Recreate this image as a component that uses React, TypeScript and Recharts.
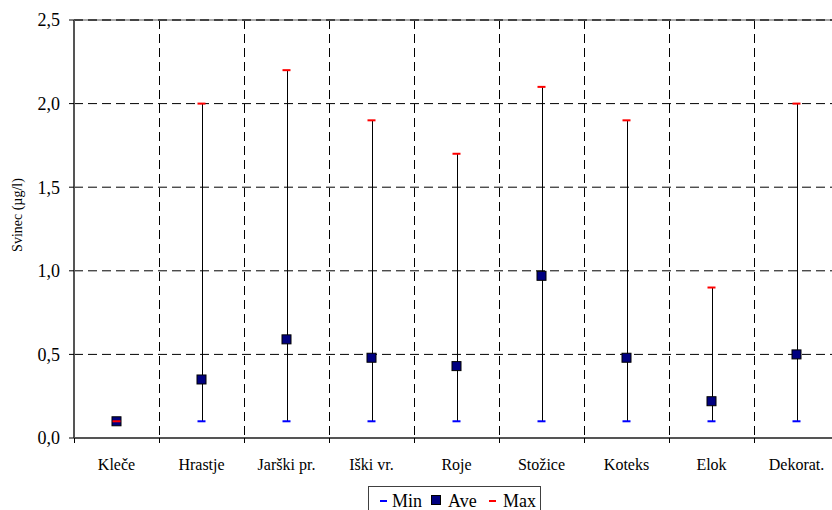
import React from "react";
import { ComposedChart, Bar, Line, XAxis, YAxis, CartesianGrid, ReferenceLine } from "recharts";

const categories = ["Kleče", "Hrastje", "Jarški pr.", "Iški vr.", "Roje", "Stožice", "Koteks", "Elok", "Dekorat."];
const minValues = [0.1, 0.1, 0.1, 0.1, 0.1, 0.1, 0.1, 0.1, 0.1];
const aveValues = [0.1, 0.35, 0.59, 0.48, 0.43, 0.97, 0.48, 0.22, 0.5];
const maxValues = [0.1, 2.0, 2.2, 1.9, 1.7, 2.1, 1.9, 0.9, 2.0];
const yTicks = [0, 0.5, 1.0, 1.5, 2.0, 2.5];

const data = categories.map((name, i) => ({
  name,
  min: minValues[i],
  ave: aveValues[i],
  max: maxValues[i],
  range: [minValues[i], maxValues[i]],
}));

const FONT = "'Liberation Serif', 'Times New Roman', Times, 'DejaVu Serif', serif";
const CHART_W = 860;
const CHART_H = 510;
const MARGIN = { top: 20, right: 21, bottom: 42, left: 0 };
const Y_AXIS_W = 74;
const PLOT_W = CHART_W - MARGIN.left - MARGIN.right - Y_AXIS_W;
const BAND = PLOT_W / categories.length;

const fmt = (v: number) => v.toFixed(1).replace(".", ",");

const XTick = (props: any) => {
  const { x, y, payload, index } = props;
  const left = Math.round(x - BAND / 2) + 0.5;
  const right = Math.round(x + BAND / 2) + 0.5;
  return (
    <g>
      <line x1={left} x2={left} y1={y} y2={y + 5} stroke="#000" strokeWidth={1} />
      {index === categories.length - 1 && (
        <line x1={right} x2={right} y1={y} y2={y + 5} stroke="#000" strokeWidth={1} />
      )}
      <text x={x} y={y + 32} textAnchor="middle" fontSize={16} style={{ fontFamily: FONT }} fill="#000">
        {payload.value}
      </text>
    </g>
  );
};

const Whisker = (props: any) => {
  const { x, y, width, height } = props;
  if (x == null || y == null) return <g />;
  const cx = Math.round(x + width / 2) + 0.5;
  return <line x1={cx} x2={cx} y1={y} y2={y + (height || 0)} stroke="#000" strokeWidth={1} />;
};

const MinDot = (props: any) => {
  const { cx, cy } = props;
  if (cx == null || cy == null) return <g />;
  return <rect x={cx - 4} y={cy - 1} width={8} height={2} fill="#0000ff" />;
};
const MaxDot = (props: any) => {
  const { cx, cy } = props;
  if (cx == null || cy == null) return <g />;
  return <rect x={cx - 4} y={cy - 1} width={8} height={2} fill="#ff0000" />;
};
const AveDot = (props: any) => {
  const { cx, cy } = props;
  if (cx == null || cy == null) return <g />;
  return <rect x={cx - 4.5} y={cy - 4.5} width={9} height={9} fill="#000080" stroke="#000" strokeWidth={1} />;
};

const YLabel = (props: any) => {
  const vb = props.viewBox || { x: 0, y: 20, width: 74, height: 418 };
  const cx = 17;
  const cy = vb.y + vb.height / 2 - 14;
  return (
    <text
      x={cx}
      y={cy}
      transform={`rotate(-90 ${cx} ${cy})`}
      textAnchor="middle"
      dominantBaseline="central"
      fontSize={14}
      style={{ fontFamily: FONT }}
      fill="#000"
    >
      Svinec (µg/l)
    </text>
  );
};

const legendItems = [
  { label: "Min", kind: "min" },
  { label: "Ave", kind: "ave" },
  { label: "Max", kind: "max" },
];

const Legendbox = () => (
  <svg
    width={174}
    height={30}
    style={{ position: "absolute", left: 368, top: 486, overflow: "visible" }}
  >
    <rect x={0.5} y={0.5} width={172} height={30} fill="#fff" stroke="#404040" strokeWidth={1} />
    {legendItems.map((it, i) => {
      const xs = [12, 63, 121][i];
      const tx = [24, 80, 135][i];
      return (
        <g key={it.label}>
          {it.kind === "ave" ? (
            <rect x={xs + 0.5} y={9.5} width={9} height={9} fill="#000080" stroke="#000" strokeWidth={1} />
          ) : (
            <rect x={xs} y={14} width={7} height={2} fill={it.kind === "min" ? "#0000ff" : "#ff0000"} />
          )}
          <text x={tx} y={21} fontSize={18} style={{ fontFamily: FONT }} fill="#000">
            {it.label}
          </text>
        </g>
      );
    })}
  </svg>
);

export default function App() {
  return (
    <div
      style={{
        position: "fixed",
        left: 0,
        top: 0,
        width: 832,
        height: 510,
        overflow: "hidden",
        background: "#fff",
        fontFamily: FONT,
      }}
    >
      <ComposedChart width={CHART_W} height={CHART_H} data={data} margin={MARGIN} style={{ fontFamily: FONT }}>
        <CartesianGrid
          stroke="#000"
          strokeDasharray="9 5"
          verticalCoordinatesGenerator={(p: any) => {
            const off = p.offset;
            const arr: number[] = [];
            for (let i = 1; i < categories.length; i++)
              arr.push(Math.round(off.left + (i * off.width) / categories.length) + 0.5);
            return arr;
          }}
        />
        <XAxis
          dataKey="name"
          type="category"
          height={30}
          interval={0}
          tickSize={0}
          tickMargin={0}
          tickLine={false}
          axisLine={{ stroke: "#555", strokeWidth: 2 }}
          tick={<XTick />}
        />
        <YAxis
          type="number"
          domain={[0, 2.5]}
          ticks={yTicks}
          width={Y_AXIS_W}
          tickSize={5}
          tickMargin={9}
          tickLine={{ stroke: "#000" }}
          axisLine={{ stroke: "#555", strokeWidth: 2 }}
          tick={{ fontSize: 18, fill: "#000", style: { fontFamily: FONT } }}
          tickFormatter={fmt}
          label={<YLabel />}
        />
        <ReferenceLine y={2.5} stroke="#aaa" strokeWidth={2} />
        <ReferenceLine y={2.5} stroke="#444" strokeWidth={2} strokeDasharray="9 5" />
        <Bar dataKey="range" barSize={10} shape={<Whisker />} isAnimationActive={false} legendType="none" />
        <Line dataKey="min" stroke="none" dot={<MinDot />} activeDot={false} isAnimationActive={false} legendType="none" />
        <Line dataKey="ave" stroke="none" dot={<AveDot />} activeDot={false} isAnimationActive={false} legendType="none" />
        <Line dataKey="max" stroke="none" dot={<MaxDot />} activeDot={false} isAnimationActive={false} legendType="none" />
      </ComposedChart>
      <Legendbox />
    </div>
  );
}
